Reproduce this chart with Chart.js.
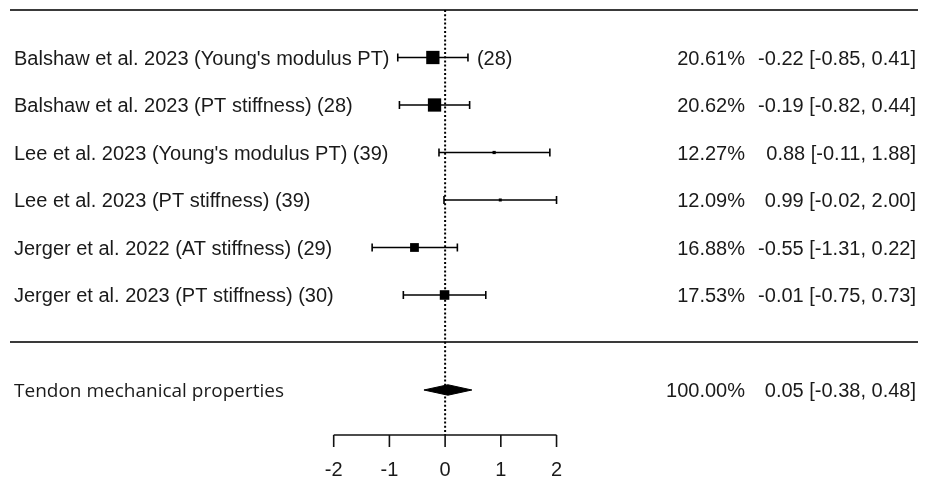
<!DOCTYPE html>
<html>
<head>
<meta charset="utf-8">
<script src="https://cdn.jsdelivr.net/npm/chart.js@4.4.1/dist/chart.umd.min.js"></script>
<style>
  html, body { margin: 0; padding: 0; background: #ffffff; }
  #wrap { width: 927px; height: 480px; position: relative; }
</style>
</head>
<body>
<div id="wrap"><canvas id="c"></canvas></div>
<script>
// ---- data ----
const studies = [
  "Balshaw et al. 2023 (Young's modulus PT)",
  "Balshaw et al. 2023 (PT stiffness)",
  "Lee et al. 2023 (Young's modulus PT)",
  "Lee et al. 2023 (PT stiffness)",
  "Jerger et al. 2022 (AT stiffness)",
  "Jerger et al. 2023 (PT stiffness)"
];
const sampleSizes = [28, 28, 39, 39, 29, 30];
const estimates = [-0.22, -0.19, 0.88, 0.99, -0.55, -0.01];
const lowerCI   = [-0.85, -0.82, -0.11, -0.02, -1.31, -0.75];
const upperCI   = [0.41, 0.44, 1.88, 2.00, 0.22, 0.73];
const weights   = [20.61, 20.62, 12.27, 12.09, 16.88, 17.53];

const summaryLabel = "Tendon mechanical properties";
const summaryEstimate = 0.05;
const summaryLower = -0.38;
const summaryUpper = 0.48;
const summaryWeight = 100.00;

const xTicks = [-2, -1, 0, 1, 2];

// ---- layout / style constants ----
const ROW_TOP = 0;          // top rule row position
const SEP_ROW = 7;          // separator row position
const SUM_ROW = 8;          // summary row position
const AXIS_ROW = 8.95;      // axis line row position
const DIAMOND_HALF = 0.11;  // diamond half-height in row units
const MIN_BOX = 3, MAX_BOX = 13.3;
const TEXT_COLOR = '#1a1a1a';
const ARIAL = '"Liberation Sans", Arial, sans-serif';

const wMin = Math.min(...weights), wMax = Math.max(...weights);
const boxSides = weights.map(w => MIN_BOX + (w - wMin) / (wMax - wMin) * (MAX_BOX - MIN_BOX));

const fmt2 = v => v.toFixed(2);
const ciText = (e, l, u) => fmt2(e) + ' [' + fmt2(l) + ', ' + fmt2(u) + ']';

const datasets = [];
// reference line at 0
datasets.push({
  type: 'line',
  data: [{x: 0, y: ROW_TOP}, {x: 0, y: AXIS_ROW}],
  borderColor: '#000', borderWidth: 2, borderDash: [2, 2.2],
  pointRadius: 0, fill: false
});
// confidence intervals with caps
studies.forEach((s, i) => {
  datasets.push({
    type: 'line',
    data: [{x: lowerCI[i], y: i + 1}, {x: upperCI[i], y: i + 1}],
    borderColor: '#000', borderWidth: 1.6,
    pointStyle: 'line', rotation: 90, pointRadius: 4,
    pointBorderColor: '#000', pointBorderWidth: 1.6,
    fill: false
  });
});
// point estimates (boxes)
datasets.push({
  type: 'scatter',
  data: estimates.map((e, i) => ({x: e, y: i + 1})),
  pointStyle: 'rect',
  pointRadius: boxSides.map(s => s / (2 * Math.SQRT1_2)),
  backgroundColor: '#000', borderColor: '#000', borderWidth: 0
});
// summary diamond
datasets.push({
  type: 'line',
  data: [
    {x: summaryLower, y: SUM_ROW},
    {x: summaryEstimate, y: SUM_ROW - DIAMOND_HALF},
    {x: summaryUpper, y: SUM_ROW},
    {x: summaryEstimate, y: SUM_ROW + DIAMOND_HALF},
    {x: summaryLower, y: SUM_ROW}
  ],
  borderColor: '#000', borderWidth: 1, backgroundColor: '#000',
  fill: 'shape', pointRadius: 0, tension: 0
});

const decor = {
  id: 'decor',
  beforeDatasetsDraw(chart) {
    const ctx = chart.ctx;
    const xs = chart.scales.x, ys = chart.scales.y;
    ctx.save();
    ctx.strokeStyle = '#3a3a3a';
    ctx.lineWidth = 2;
    [ROW_TOP, SEP_ROW].forEach(r => {
      const y = Math.round(ys.getPixelForValue(r));
      ctx.beginPath(); ctx.moveTo(10, y); ctx.lineTo(918, y); ctx.stroke();
    });
    // x axis
    const ya = Math.round(ys.getPixelForValue(AXIS_ROW));
    ctx.strokeStyle = '#111';
    ctx.lineWidth = 1.6;
    ctx.beginPath();
    ctx.moveTo(xs.getPixelForValue(xTicks[0]), ya);
    ctx.lineTo(xs.getPixelForValue(xTicks[xTicks.length - 1]), ya);
    ctx.stroke();
    ctx.fillStyle = TEXT_COLOR;
    ctx.font = '20px ' + ARIAL;
    ctx.textAlign = 'center';
    ctx.textBaseline = 'alphabetic';
    xTicks.forEach(t => {
      const px = xs.getPixelForValue(t);
      ctx.beginPath(); ctx.moveTo(px, ya); ctx.lineTo(px, ya + 12); ctx.stroke();
      ctx.fillText(String(t), px, ya + 41);
    });
    ctx.restore();
  },
  afterDatasetsDraw(chart) {
    const ctx = chart.ctx;
    const xs = chart.scales.x, ys = chart.scales.y;
    ctx.save();
    ctx.fillStyle = TEXT_COLOR;
    const fs = 20;
    ctx.font = fs + 'px ' + ARIAL;
    ctx.textBaseline = 'alphabetic';
    studies.forEach((s, i) => {
      const yb = ys.getPixelForValue(i + 1) + 0.358 * fs;
      const nTxt = '(' + sampleSizes[i] + ')';
      const full = s + ' ' + nTxt;
      const loPx = xs.getPixelForValue(lowerCI[i]);
      ctx.textAlign = 'left';
      if (14 + ctx.measureText(full).width > loPx - 4) {
        ctx.fillText(s, 14, yb);
        ctx.fillText(nTxt, xs.getPixelForValue(upperCI[i]) + 9, yb);
      } else {
        ctx.fillText(full, 14, yb);
      }
      ctx.textAlign = 'right';
      ctx.fillText(weights[i].toFixed(2) + '%', 745, yb);
      ctx.fillText(ciText(estimates[i], lowerCI[i], upperCI[i]), 916, yb);
    });
    const ys2 = ys.getPixelForValue(SUM_ROW) + 0.358 * fs;
    ctx.textAlign = 'right';
    ctx.fillText(summaryWeight.toFixed(2) + '%', 745, ys2);
    ctx.fillText(ciText(summaryEstimate, summaryLower, summaryUpper), 916, ys2);
    ctx.textAlign = 'left';
    ctx.font = '19px "Open Sans", "Noto Sans", sans-serif';
    ctx.fillText(summaryLabel, 14, ys.getPixelForValue(SUM_ROW) + 0.36 * 19);
    ctx.restore();
  }
};

new Chart(document.getElementById('c'), {
  type: 'scatter',
  data: { datasets },
  options: {
    responsive: true,
    maintainAspectRatio: false,
    animation: false,
    layout: { padding: 0, autoPadding: false },
    plugins: { legend: { display: false }, tooltip: { enabled: false } },
    scales: {
      x: { type: 'linear', min: -7.99, max: 8.65, display: false },
      y: { type: 'linear', min: -0.2105, max: 9.895, reverse: true, display: false }
    }
  },
  plugins: [decor]
});
</script>
</body>
</html>
